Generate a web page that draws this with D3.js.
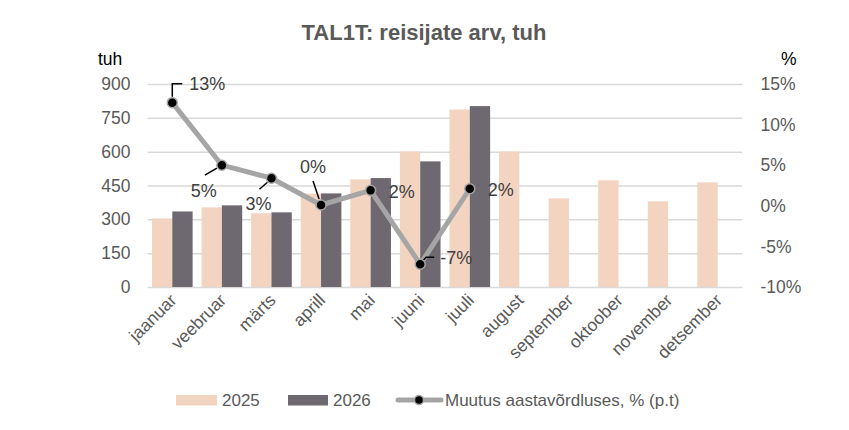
<!DOCTYPE html>
<html>
<head>
<meta charset="utf-8">
<script src="https://cdn.jsdelivr.net/npm/d3@7/dist/d3.min.js"></script>
<style>
  body { margin: 0; background: #fff; }
  text { font-family: "Liberation Sans", Arial, sans-serif; }
</style>
</head>
<body>
<script>
// chart data
var months = ["jaanuar", "veebruar", "märts", "aprill", "mai", "juuni", "juuli",
              "august", "september", "oktoober", "november", "detsember"];
var v2025 = [304, 353, 327, 414, 477, 601, 787, 601, 393, 473, 380, 464];
var v2026 = [335, 362, 331, 415, 483, 557, 802];
var change = [12.7, 5.0, 3.4, 0.1, 1.9, -7.2, 2.1];
var leftTicks = [0, 150, 300, 450, 600, 750, 900];
var rightTicks = [-10, -5, 0, 5, 10, 15];
var seriesNames = ["2025", "2026", "Muutus aastavõrdluses, % (p.t)"];

// label placement for the line values (layout only)
var labelPlace = [
  { dx: 17, dy: -19, anchor: "start", lead: [[0, -6], [0, -19], [10, -19]] },
  { dx: -18, dy: 25, anchor: "middle", lead: [[-5, 3], [-17, 10]] },
  { dx: -13, dy: 26, anchor: "middle", lead: [[-4, 4], [-12, 11]] },
  { dx: -8, dy: -38, anchor: "middle", lead: [[-2, -6], [-8, -24]] },
  { dx: 18, dy: 1, anchor: "start", lead: null },
  { dx: 20, dy: -7, anchor: "start", lead: [[3, -4], [6, -7], [14, -7]] },
  { dx: 18, dy: 1, anchor: "start", lead: null },
];

var W = 849, H = 430;
var c2025 = "#F3D4C1", c2026 = "#6E6970", cLine = "#A5A5A5";
var textCol = "#595959";

var svg = d3.select("body").append("svg")
  .attr("width", W).attr("height", H);

var plotL = 147.5, plotR = 742.5, plotT = 84, plotB = 287;

var x = d3.scaleBand().domain(months).range([plotL, plotR]);
var xs = d3.scaleBand().domain(["2025", "2026"])
  .range([x.bandwidth() * 0.09, x.bandwidth() * 0.91]);
var y = d3.scaleLinear().domain([0, 900]).range([plotB, plotT]);
var y2 = d3.scaleLinear().domain([-10, 15]).range([plotB, plotT]);

// title
svg.append("text")
  .attr("x", 424).attr("y", 40)
  .attr("text-anchor", "middle")
  .attr("font-size", 22).attr("font-weight", "bold")
  .attr("fill", textCol)
  .text("TAL1T: reisijate arv, tuh");

// axis units
svg.append("text").attr("x", 98).attr("y", 65)
  .attr("font-size", 17.5).attr("fill", "#000").text("tuh");
svg.append("text").attr("x", 781).attr("y", 65)
  .attr("font-size", 17.5).attr("fill", "#000").text("%");

// gridlines + left axis
var yAxis = d3.axisLeft(y).tickValues(leftTicks).tickSize(-(plotR - plotL)).tickPadding(17);
var gy = svg.append("g").attr("transform", "translate(" + plotL + ",0)").call(yAxis);
gy.select(".domain").remove();
gy.selectAll(".tick line").attr("stroke", "#D9D9D9").attr("stroke-width", 1.5);
gy.selectAll(".tick text").attr("font-size", 17.5).attr("fill", textCol)
  .style("font-family", "Liberation Sans, Arial, sans-serif");

// right axis
var yAxis2 = d3.axisRight(y2).tickValues(rightTicks).tickSize(0).tickPadding(18)
  .tickFormat(function(d) { return d + "%"; });
var gy2 = svg.append("g").attr("transform", "translate(" + plotR + ",0)").call(yAxis2);
gy2.select(".domain").remove();
gy2.selectAll(".tick text").attr("font-size", 17.5).attr("fill", textCol)
  .style("font-family", "Liberation Sans, Arial, sans-serif");

// bars
svg.append("g").selectAll("rect").data(v2025).join("rect")
  .attr("x", function(d, i) { return x(months[i]) + xs("2025"); })
  .attr("y", function(d) { return y(d); })
  .attr("width", xs.bandwidth())
  .attr("height", function(d) { return y(0) - y(d); })
  .attr("fill", c2025);
svg.append("g").selectAll("rect").data(v2026).join("rect")
  .attr("x", function(d, i) { return x(months[i]) + xs("2026"); })
  .attr("y", function(d) { return y(d); })
  .attr("width", xs.bandwidth())
  .attr("height", function(d) { return y(0) - y(d); })
  .attr("fill", c2026);

// x labels
var cx = function(i) { return x(months[i]) + x.bandwidth() / 2; };
svg.append("g").selectAll("text").data(months).join("text")
  .attr("transform", function(d, i) {
    return "translate(" + (cx(i) + 1) + "," + 297 + ") rotate(-45)";
  })
  .attr("text-anchor", "end")
  .attr("dy", "0.35em")
  .attr("font-size", 17.5).attr("fill", textCol)
  .text(function(d) { return d; });

// line
var line = d3.line()
  .x(function(d, i) { return cx(i); })
  .y(function(d) { return y2(d); });
svg.append("path").datum(change)
  .attr("d", line)
  .attr("fill", "none")
  .attr("stroke", cLine)
  .attr("stroke-width", 5)
  .attr("stroke-linejoin", "round");

// leaders
svg.append("g").selectAll("path").data(change).join("path")
  .attr("d", function(d, i) {
    var p = labelPlace[i].lead;
    if(!p) return null;
    var px = cx(i), py = y2(d);
    return "M" + p.map(function(q) { return (px + q[0]) + "," + (py + q[1]); }).join("L");
  })
  .attr("fill", "none").attr("stroke", "#000").attr("stroke-width", 1.5);

svg.append("g").selectAll("circle").data(change).join("circle")
  .attr("cx", function(d, i) { return cx(i); })
  .attr("cy", function(d) { return y2(d); })
  .attr("r", 5)
  .attr("fill", "#000")
  .attr("stroke", cLine).attr("stroke-width", 1.5);

// value labels
svg.append("g").selectAll("text").data(change).join("text")
  .attr("x", function(d, i) { return cx(i) + labelPlace[i].dx; })
  .attr("y", function(d, i) { return y2(d) + labelPlace[i].dy; })
  .attr("dy", "0.35em")
  .attr("text-anchor", function(d, i) { return labelPlace[i].anchor; })
  .attr("font-size", 18).attr("fill", "#404040")
  .text(function(d) { return Math.round(d) + "%"; });

// legend
var lg = svg.append("g").attr("transform", "translate(0,400)");
lg.append("rect").attr("x", 176).attr("y", -5).attr("width", 41).attr("height", 10.5).attr("fill", c2025);
lg.append("text").attr("x", 222).attr("y", 0.5).attr("dy", "0.35em")
  .attr("font-size", 17).attr("fill", textCol).text(seriesNames[0]);
lg.append("rect").attr("x", 288).attr("y", -5).attr("width", 40).attr("height", 10.5).attr("fill", c2026);
lg.append("text").attr("x", 333).attr("y", 0.5).attr("dy", "0.35em")
  .attr("font-size", 17).attr("fill", textCol).text(seriesNames[1]);
lg.append("line").attr("x1", 398).attr("x2", 441).attr("y1", 0).attr("y2", 0)
  .attr("stroke", cLine).attr("stroke-width", 5).attr("stroke-linecap", "round");
lg.append("circle").attr("cx", 419).attr("cy", 0).attr("r", 4.5)
  .attr("fill", "#000").attr("stroke", cLine).attr("stroke-width", 1.5);
lg.append("text").attr("x", 445).attr("y", 0.5).attr("dy", "0.35em")
  .attr("font-size", 17).attr("fill", textCol).text(seriesNames[2]);
</script>
</body>
</html>
